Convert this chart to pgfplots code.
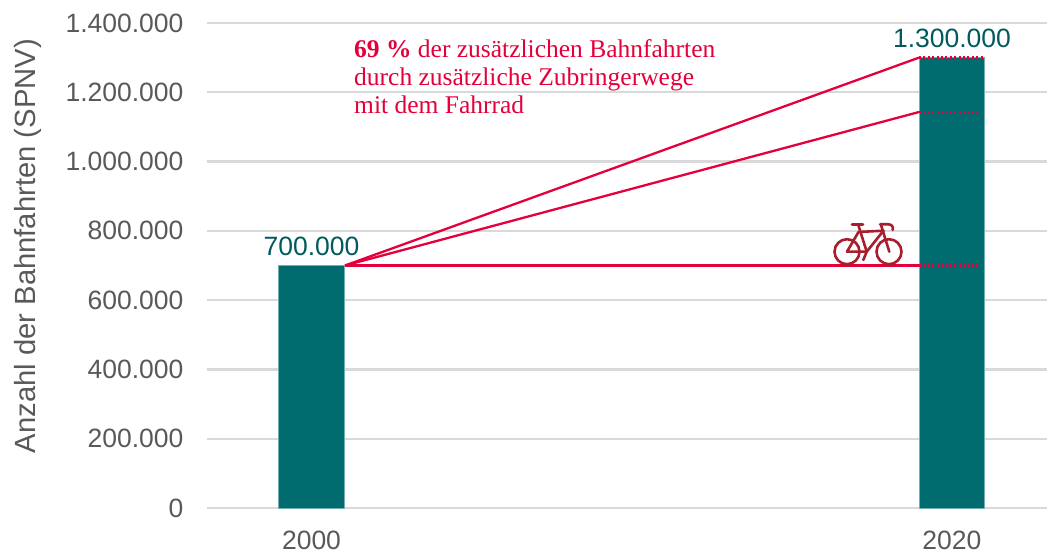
\documentclass[border=0pt]{standalone}
\usepackage{fontspec}
\setmainfont{Liberation Sans}
\newfontfamily\noteserif{Liberation Serif}
\usepackage{pgfplots}
\pgfplotsset{compat=1.18}
\definecolor{barteal}{HTML}{006C70}
\definecolor{labelteal}{HTML}{005A5E}
\definecolor{txtgray}{HTML}{595959}
\definecolor{gridgray}{HTML}{D9D9D9}
\definecolor{linered}{HTML}{E4003A}
\definecolor{bikered}{HTML}{A81E2D}
\begin{document}
\begin{tikzpicture}[x=1pt,y=1pt]
\useasboundingbox (0,0) rectangle (1049,553);
\begin{axis}[
    at={(207pt,45pt)}, anchor=south west,
    scale only axis,
    width=840pt, height=485pt,
    xmin=-0.1632, xmax=1.1484,
    ymin=0, ymax=1400000,
    xtick={0,1}, xticklabels={2000,2020},
    ytick={0,200000,400000,600000,800000,1000000,1200000,1400000},
    scaled y ticks=false,
    /pgf/number format/.cd, fixed, precision=0, 1000 sep={.}, assume math mode=true,
    /pgfplots/.cd,
    axis line style={draw=none},
    major tick style={draw=none},
    ymajorgrids,
    grid style={draw=gridgray, line width=2.2pt},
    tick label style={font=\fontsize{26.5}{30}\selectfont, text=txtgray},
    yticklabel style={xshift=-20pt},
    xticklabel style={yshift=-19pt},
    ylabel={Anzahl der Bahnfahrten (SPNV)},
    ylabel style={font=\fontsize{29.2}{32}\selectfont, text=txtgray,
        at={(axis description cs:-0.213,0.54)}, anchor=center},
    clip=false,
]
\addplot[ybar, bar width=65.5pt, bar shift=0pt, fill=barteal, draw=barteal!55, line width=0.8pt,
    nodes near coords,
    every node near coord/.append style={font=\fontsize{26.5}{30}\selectfont, text=labelteal, yshift=6pt}]
    coordinates {(0,700000) (1,1300000)};
% lines from the 2000 bar to the 2020 bar
\addplot[linered, line width=2.3pt] coordinates {(0.0523,700000) (0.9485,1300000)};
\addplot[linered, line width=2.3pt] coordinates {(0.0523,700000) (0.9485,1143000)};
\addplot[linered, line width=2.3pt] coordinates {(0.0523,700000) (0.9485,700000)};
% dotted across the 2020 bar
\addplot[linered, line width=2.4pt, dash pattern=on 2pt off 2.4pt] coordinates {(0.9485,1300000) (1.0515,1300000)};
\addplot[linered, line width=2.4pt, dash pattern=on 2pt off 2.4pt] coordinates {(0.9485,1143000) (1.047,1143000)};
\addplot[linered, line width=2.4pt, dash pattern=on 2pt off 2.4pt] coordinates {(0.9485,700000) (1.044,700000)};
\end{axis}
% annotation
\begin{scope}[every node/.style={anchor=base west, inner sep=0pt, text=linered, font=\noteserif\fontsize{25.5}{28}\selectfont}]
\node at (354,495) {\textbf{69 \%} der zusätzlichen Bahnfahrten};
\node at (354,467) {durch zusätzliche Zubringerwege};
\node at (354,439) {mit dem Fahrrad};
\end{scope}
% bicycle icon
\begin{scope}[shift={(0,553)}, y=-1pt, draw=bikered, line width=2.6pt, line cap=round, line join=round]
\draw (847,251.7) circle (12.5);
\draw (889,251.7) circle (12.5);
\draw (847,251.7) -- (858.5,232) -- (883.5,230.7);
\draw (847,251.7) -- (866.7,251.7) -- (883.5,230.7);
\draw (858.3,225) -- (866.7,251.7) -- (863.3,260);
\draw (852,224.3) -- (863,224.3);
\draw (880,224.3) -- (888.3,224.3) .. controls (892,224.3) and (893.5,227) .. (892.7,230);
\draw (881,225) -- (889.3,251.7);
\end{scope}
\end{tikzpicture}
\end{document}
